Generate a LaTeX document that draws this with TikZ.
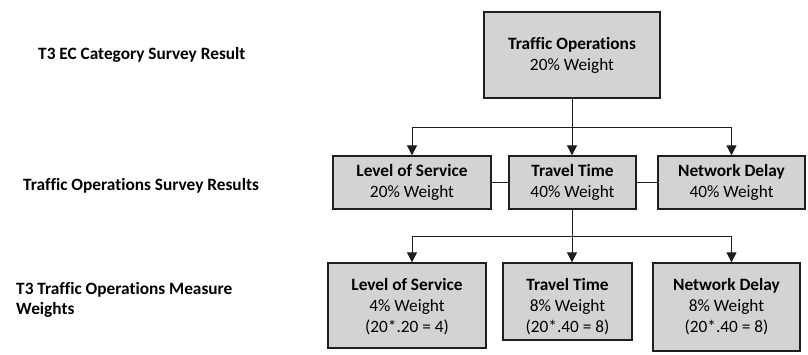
\documentclass[tikz,border=0pt]{standalone}
\usepackage{fontspec}
\setmainfont{Carlito}[Ligatures={NoCommon}]
\usetikzlibrary{arrows.meta}
\definecolor{boxfill}{RGB}{212,210,212}
\definecolor{linec}{RGB}{30,30,30}
\begin{document}
\begin{tikzpicture}[x=1pt,y=-1pt,
  box/.style={draw=linec, line width=1.3pt, fill=boxfill, inner sep=0pt, align=center,
    font=\fontsize{17.3}{21}\selectfont},
  arr/.style={draw=linec, line width=0.8pt, -{Triangle[width=10pt,length=10pt]}},
  conn/.style={draw=linec, line width=0.8pt},
  lbl/.style={anchor=west, inner sep=0pt, align=left, font=\fontsize{17.3}{20}\selectfont\bfseries}]
\useasboundingbox (0,0) rectangle (808,354);

% left labels
\node[lbl] (l1) at (38,55) {T3 EC Category Survey Result};
\node[lbl] (l2) at (23,186) {Traffic Operations Survey Results};
\node[lbl] (l3) at (16,300) {T3 Traffic Operations Measure\\Weights};

% top
\node[box, minimum width=176pt, minimum height=86pt] (top) at (572,55)
  {\textbf{Traffic Operations}\\20\% Weight};

% middle
\node[box, minimum width=158pt, minimum height=53pt] (los1) at (412,182.5)
  {\textbf{Level of Service}\\20\% Weight};
\node[box, minimum width=127pt, minimum height=53pt] (tt1) at (572.5,182.5)
  {\textbf{Travel Time}\\40\% Weight};
\node[box, minimum width=147pt, minimum height=53pt] (nd1) at (731.5,182.5)
  {\textbf{Network Delay}\\40\% Weight};

% bottom
\node[box, minimum width=158pt, minimum height=85pt] (los2) at (407,305.5)
  {\rule{0pt}{15pt}\textbf{Level of Service}\\4\% Weight\\(20*.20 = 4)};
\node[box, minimum width=129pt, minimum height=77pt] (tt2) at (567.5,301.5)
  {\rule{0pt}{23pt}\textbf{Travel Time}\\8\% Weight\\(20*.40 = 8)};
\node[box, minimum width=147pt, minimum height=88pt] (nd2) at (726.5,307)
  {\textbf{Network Delay}\\8\% Weight\\(20*.40 = 8)};

% connectors top -> middle
\coordinate (j1) at (572,127);
\draw[conn] (top.south) -- (j1);
\draw[arr] (j1) -| (los1.north);
\draw[arr] (j1) -- (j1 |- tt1.north);
\draw[arr] (j1) -| (nd1.north);
\draw[conn] (los1.east) -- (tt1.west);
\draw[conn] (tt1.east) -- (nd1.west);

% connectors middle -> bottom
\coordinate (j2) at (572,236);
\draw[conn] (j2 |- tt1.south) -- (j2);
\draw[arr] (j2) -| (los1.south |- los2.north);
\draw[arr] (j2) -- (j2 |- tt2.north);
\draw[arr] (j2) -| (nd1.south |- nd2.north);
\end{tikzpicture}
\end{document}
